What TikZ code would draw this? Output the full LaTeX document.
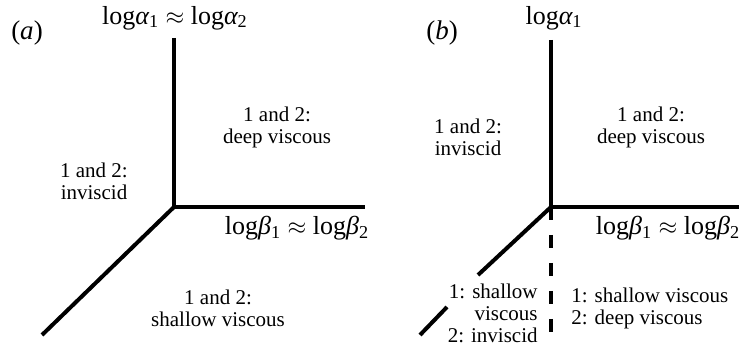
\documentclass[tikz,border=0pt]{standalone}
\usepackage{fontspec}
\setmainfont{Liberation Serif}
\usepackage{tikz}
\usetikzlibrary{positioning}
\newcommand\logof[2]{log{\itshape #1}\textsubscript{#2}}

\begin{document}
\begin{tikzpicture}[
  x=0.5pt, y=-0.5pt,
  axis/.style={line width=2pt},
  cut/.style={line width=2pt, dash pattern=on 6.5pt off 7.5pt},
  region/.style={align=center, font=\fontsize{10.5}{11}\selectfont, inner sep=0pt},
  axlabel/.style={font=\fontsize{13}{15}\selectfont, inner sep=0pt},
  panel/.style={font=\fontsize{13.5}{15}\selectfont, inner sep=0pt}
]
\useasboundingbox (0,0) rectangle (742,346);

% panel (a)
\coordinate (a-o) at (174,207);
\coordinate (a-top) at (174,38);
\coordinate (a-right) at (365,207);
\coordinate (a-low) at (42,335);
\draw[axis] (a-top) -- (a-o) -- (a-right);
\draw[axis] (a-o) -- (a-low);
\node[panel] (a-tag) at (27,33) {(\textit{a})};
\node[axlabel] (a-alpha) at (175,18) {\logof{α}{1} $\approx$ \logof{α}{2}};
\node[axlabel] (a-beta) at (297,228) {\logof{β}{1} $\approx$ \logof{β}{2}};
\node[region] (a-deep) at (277,127) {1 and 2:\\deep viscous};
\node[region] (a-inv) at (94,181) {1 and 2:\\inviscid};
\node[region] (a-shal) at (218,308) {1 and 2:\\shallow viscous};

% panel (b)
\coordinate (b-o) at (551,207);
\coordinate (b-top) at (551,40);
\coordinate (b-right) at (739,207);
\coordinate (b-bot) at (551,338);
\coordinate (b-cut1) at (478,275);
\coordinate (b-cut2) at (447,307);
\coordinate (b-low) at (420,335);
\draw[axis] (b-top) -- (b-o) -- (b-right);
\draw[axis] (b-o) -- (b-cut1);
\draw[axis] (b-cut2) -- (b-low);
\draw[cut] (b-o) -- (b-bot);
\node[panel] (b-tag) at (442,33) {(\textit{b})};
\node[axlabel] (b-alpha) at (554,18) {\logof{α}{1}};
\node[axlabel] (b-beta) at (668,228) {\logof{β}{1} $\approx$ \logof{β}{2}};
\node[region] (b-deep) at (651,127) {1 and 2:\\deep viscous};
\node[region] (b-inv) at (468,137) {1 and 2:\\inviscid};
\node[region, align=left, anchor=west] (b-mix) at (571,308) {1: shallow viscous\\2: deep viscous};
\node[region, align=right, anchor=east] (b-split) at (538,313) {1: shallow\\viscous\\2: inviscid};
\end{tikzpicture}
\end{document}
